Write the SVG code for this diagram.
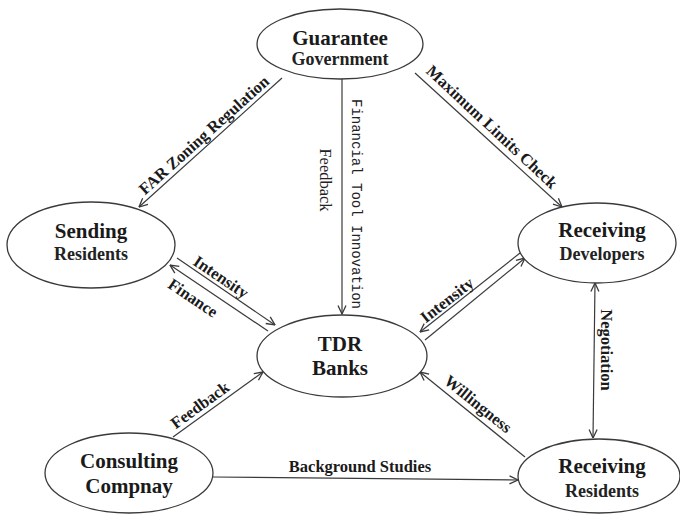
<svg xmlns="http://www.w3.org/2000/svg" width="680" height="514" viewBox="0 0 680 514">
  <style>
    .node ellipse { fill: #ffffff; stroke: #3a3a3a; stroke-width: 1.3; }
    .title { font-family: "Liberation Serif", "Times New Roman", serif; font-weight: bold; font-size: 21px; fill: #1a1a1a; text-anchor: middle; }
    .sub { font-family: "Liberation Serif", "Times New Roman", serif; font-weight: bold; font-size: 18px; fill: #222222; text-anchor: middle; }
    .edge line { stroke: #3a3a3a; stroke-width: 1.2; fill: none; }
    .lbl { font-family: "Liberation Serif", "Times New Roman", serif; font-weight: bold; font-size: 16.5px; fill: #1a1a1a; text-anchor: middle; dominant-baseline: central; }
    .mono { font-family: "Liberation Mono", "Courier New", monospace; font-size: 14px; fill: #222222; text-anchor: middle; dominant-baseline: central; }
    .plain { font-family: "Liberation Serif", "Times New Roman", serif; font-size: 16.5px; fill: #222222; text-anchor: middle; dominant-baseline: central; }
  </style>
  <defs>
    <marker id="arr" viewBox="0 0 10 10" refX="9.5" refY="5" markerWidth="10" markerHeight="10" markerUnits="userSpaceOnUse" orient="auto-start-reverse">
      <path d="M1,1 L9.5,5 L1,9" fill="none" stroke="#3a3a3a" stroke-width="1.3"/>
    </marker>
  </defs>

  <rect width="680" height="514" fill="#ffffff"/>

  <!-- connectors -->
  <g id="connectors" class="edge">
    <line x1="282" y1="78" x2="139" y2="207" marker-end="url(#arr)"/>
    <line x1="415" y1="73" x2="562" y2="207" marker-end="url(#arr)"/>
    <line x1="342" y1="79" x2="342" y2="314" marker-end="url(#arr)"/>
    <line x1="177" y1="258" x2="275" y2="325" marker-end="url(#arr)"/>
    <line x1="268" y1="331" x2="170" y2="265" marker-end="url(#arr)"/>
    <line x1="520" y1="253" x2="420" y2="332" marker-end="url(#arr)"/>
    <line x1="425" y1="340" x2="525" y2="258" marker-end="url(#arr)"/>
    <line x1="595" y1="283" x2="593" y2="438" marker-start="url(#arr)" marker-end="url(#arr)"/>
    <line x1="525" y1="457" x2="420" y2="372" marker-end="url(#arr)"/>
    <line x1="173" y1="437" x2="263" y2="372" marker-end="url(#arr)"/>
    <line x1="213" y1="477" x2="518" y2="480" marker-end="url(#arr)"/>
  </g>

  <!-- connector labels -->
  <g id="labels">
    <text class="lbl" transform="translate(204,135) rotate(-42)">FAR Zoning Regulation</text>
    <text class="lbl" transform="translate(492,127) rotate(43)">Maximum Limits Check</text>
    <text class="mono" transform="translate(356,204) rotate(90)">Financial Tool Innovation</text>
    <text class="plain" transform="translate(325,180) rotate(90)">Feedback</text>
    <text class="lbl" transform="translate(221,277) rotate(34)">Intensity</text>
    <text class="lbl" transform="translate(193,298) rotate(34)">Finance</text>
    <text class="lbl" transform="translate(447,300) rotate(-38)">Intensity</text>
    <text class="lbl" transform="translate(606,350) rotate(90)">Negotiation</text>
    <text class="lbl" transform="translate(478,404) rotate(39)">Willingness</text>
    <text class="lbl" transform="translate(200,405) rotate(-36)">Feedback</text>
    <text class="lbl" x="360" y="466">Background Studies</text>
  </g>

  <!-- nodes -->
  <g id="guarantee" class="node">
    <ellipse cx="340" cy="44" rx="83" ry="35"/>
    <text class="title" x="340" y="45">Guarantee</text>
    <text class="sub" x="340" y="65">Government</text>
  </g>
  <g id="sending" class="node">
    <ellipse cx="91" cy="245" rx="84" ry="43"/>
    <text class="title" x="91" y="238">Sending</text>
    <text class="sub" x="91" y="260">Residents</text>
  </g>
  <g id="tdr" class="node">
    <ellipse cx="342" cy="356" rx="85" ry="41"/>
    <text class="title" x="340" y="351">TDR</text>
    <text class="title" x="340" y="375">Banks</text>
  </g>
  <g id="receiving-developers" class="node">
    <ellipse cx="597" cy="243" rx="79" ry="40"/>
    <text class="title" x="602" y="237">Receiving</text>
    <text class="sub" x="602" y="260">Developers</text>
  </g>
  <g id="receiving-residents" class="node">
    <ellipse cx="599" cy="476" rx="81" ry="37"/>
    <text class="title" x="602" y="473">Receiving</text>
    <text class="sub" x="602" y="497">Residents</text>
  </g>
  <g id="consulting" class="node">
    <ellipse cx="129" cy="473" rx="84" ry="40"/>
    <text class="title" x="129" y="468">Consulting</text>
    <text class="title" x="129" y="493">Compnay</text>
  </g>
</svg>
